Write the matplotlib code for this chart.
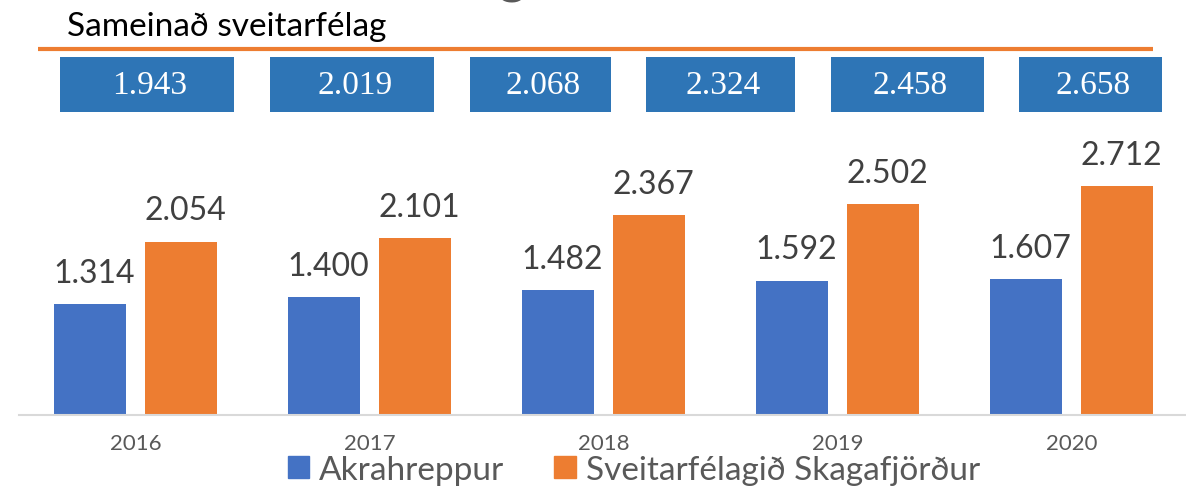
import numpy as np
import matplotlib.pyplot as plt
from matplotlib.patches import Rectangle, Patch

years = ['2016', '2017', '2018', '2019', '2020']
akrahreppur = [1.314, 1.400, 1.482, 1.592, 1.607]
skagafjordur = [2.054, 2.101, 2.367, 2.502, 2.712]
sameinad = ['1.943', '2.019', '2.068', '2.324', '2.458', '2.658']
labels = ['Akrahreppur', 'Sveitarfélagið Skagafjörður']

W, H = 1186, 489
blue = '#4472C4'
orange = '#ED7D31'
box_blue = '#2E75B6'

plt.rcParams['font.family'] = ['Lato', 'DejaVu Sans']

fig = plt.figure(figsize=(W / 100, H / 100), dpi=100)

# partial large title cut off at the top
fig.text(512 / W, 1 - 2 / H, 'g', fontsize=40, color='#595959',
         ha='center', va='bottom')

fig.text(67 / W, 1 - 36 / H, 'Sameinað sveitarfélag', fontsize=24,
         color='black', va='baseline')

# orange rule under the heading
fig.add_artist(plt.Line2D([38 / W, 1153 / W], [1 - 50 / H, 1 - 50 / H],
                          color=orange, lw=3, solid_capstyle='butt'))

# blue boxes with combined numbers
box_left = [60, 270, 470, 646, 831, 1019]
box_right = [234, 434, 611, 795, 984, 1162]
for l, r, txt in zip(box_left, box_right, sameinad):
    fig.add_artist(Rectangle((l / W, 1 - 113 / H), (r - l) / W, 55 / H,
                             transform=fig.transFigure, color=box_blue, lw=0))
    fig.text((l + r) / 2 / W + 3 / W, 1 - 86 / H, txt, fontsize=24,
             family='Liberation Serif', color='white', ha='center', va='center')

# bar chart
ax = fig.add_axes([18.5 / W, (H - 416) / H, 1170 / W, 286 / H])
x = np.arange(len(years))
bw = 0.308
off = 0.194
b1 = ax.bar(x - off, akrahreppur, bw, color=blue)
b2 = ax.bar(x + off, skagafjordur, bw, color=orange)
for bars, vals in [(b1, akrahreppur), (b2, skagafjordur)]:
    for rect, v in zip(bars, vals):
        ax.annotate(f'{v:.3f}', (rect.get_x() + rect.get_width() / 2, v),
                    xytext=(3, 16), textcoords='offset points',
                    ha='center', va='baseline', fontsize=23, color='#404040')

ax.set_xlim(-0.5, 4.5)
ax.set_ylim(0, 3.39)
ax.set_xticks(x)
ax.set_xticklabels(years, fontsize=16, color='#595959')
ax.tick_params(axis='x', length=0, pad=13)
ax.set_yticks([])
for s in ['top', 'right', 'left']:
    ax.spines[s].set_visible(False)
ax.spines['bottom'].set_color('#D9D9D9')
ax.spines['bottom'].set_linewidth(1.5)

handles = [Patch(color=blue), Patch(color=orange)]
fig.legend(handles, labels, loc='center', bbox_to_anchor=(634 / W, 1 - 471 / H),
           ncol=2, frameon=False, fontsize=24, handlelength=0.64,
           handleheight=0.64, handletextpad=0.3, columnspacing=1.5,
           labelcolor='#595959', borderpad=0, borderaxespad=0)

fig.savefig('out.png', dpi=100)
